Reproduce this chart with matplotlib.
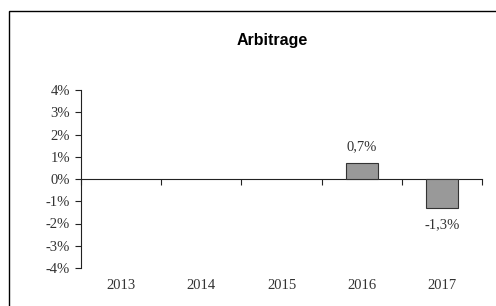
import numpy as np
import matplotlib
matplotlib.use('Agg')
import matplotlib.pyplot as plt
import matplotlib.transforms as mtransforms
from matplotlib.patches import Rectangle

# Data
years = ['2013', '2014', '2015', '2016', '2017']
values = [np.nan, np.nan, np.nan, 0.7, -1.3]   # percent
value_labels = ['', '', '', '0,7%', '-1,3%']
yticks = [-4, -3, -2, -1, 0, 1, 2, 3, 4]

fig = plt.figure(figsize=(4.96, 3.06), dpi=100)
fig.patch.set_facecolor('white')

# outer chart frame
fig.patches.append(Rectangle((9/496, -0.1), 1.2, 1 - 11/306 + 0.1, transform=fig.transFigure,
                             fill=False, edgecolor='black', linewidth=1.0))

ax = fig.add_axes([81/496, 1 - 268/306, (482 - 81)/496, (268 - 90)/306])
x = np.arange(len(years))
ax.bar(x, values, width=0.4, color='#999999', edgecolor='#333333', linewidth=0.8, zorder=3)

ax.set_xlim(-0.5, len(years) - 0.5)
ax.set_ylim(-4, 4)

ax.spines['top'].set_visible(False)
ax.spines['right'].set_visible(False)
ax.spines['bottom'].set_position(('data', 0))
ax.spines['left'].set_color('#222222')
ax.spines['bottom'].set_color('#222222')

serif = 'Liberation Serif'
ax.set_yticks(yticks)
ax.set_yticklabels([f'{t}%' for t in yticks], fontfamily=serif, fontsize=10.5, color='#333333')
ax.tick_params(axis='y', length=4, width=0.8, color='#222222', pad=4)

ax.set_xticks(np.arange(len(years) + 1) - 0.5)
ax.set_xticklabels([])
ax.tick_params(axis='x', length=4, width=0.8, color='#222222', direction='out')

trans = mtransforms.blended_transform_factory(ax.transData, ax.transAxes)
for i, yr in enumerate(years):
    ax.text(x[i], -0.1, yr, transform=trans, ha='center', va='center',
            fontfamily=serif, fontsize=10.5, color='#333333')

for i, v in enumerate(values):
    if np.isnan(v):
        continue
    if v >= 0:
        ax.text(x[i], v + 0.45, value_labels[i], ha='center', va='bottom',
                fontfamily=serif, fontsize=10.5, color='#333333')
    else:
        ax.text(x[i], v - 0.45, value_labels[i], ha='center', va='top',
                fontfamily=serif, fontsize=10.5, color='#333333')

fig.text(272/496, 1 - 40/306, 'Arbitrage', ha='center', va='center',
         fontfamily='Liberation Sans', fontweight='bold', fontsize=11.5, color='black')

fig.savefig('out.png', dpi=100)
